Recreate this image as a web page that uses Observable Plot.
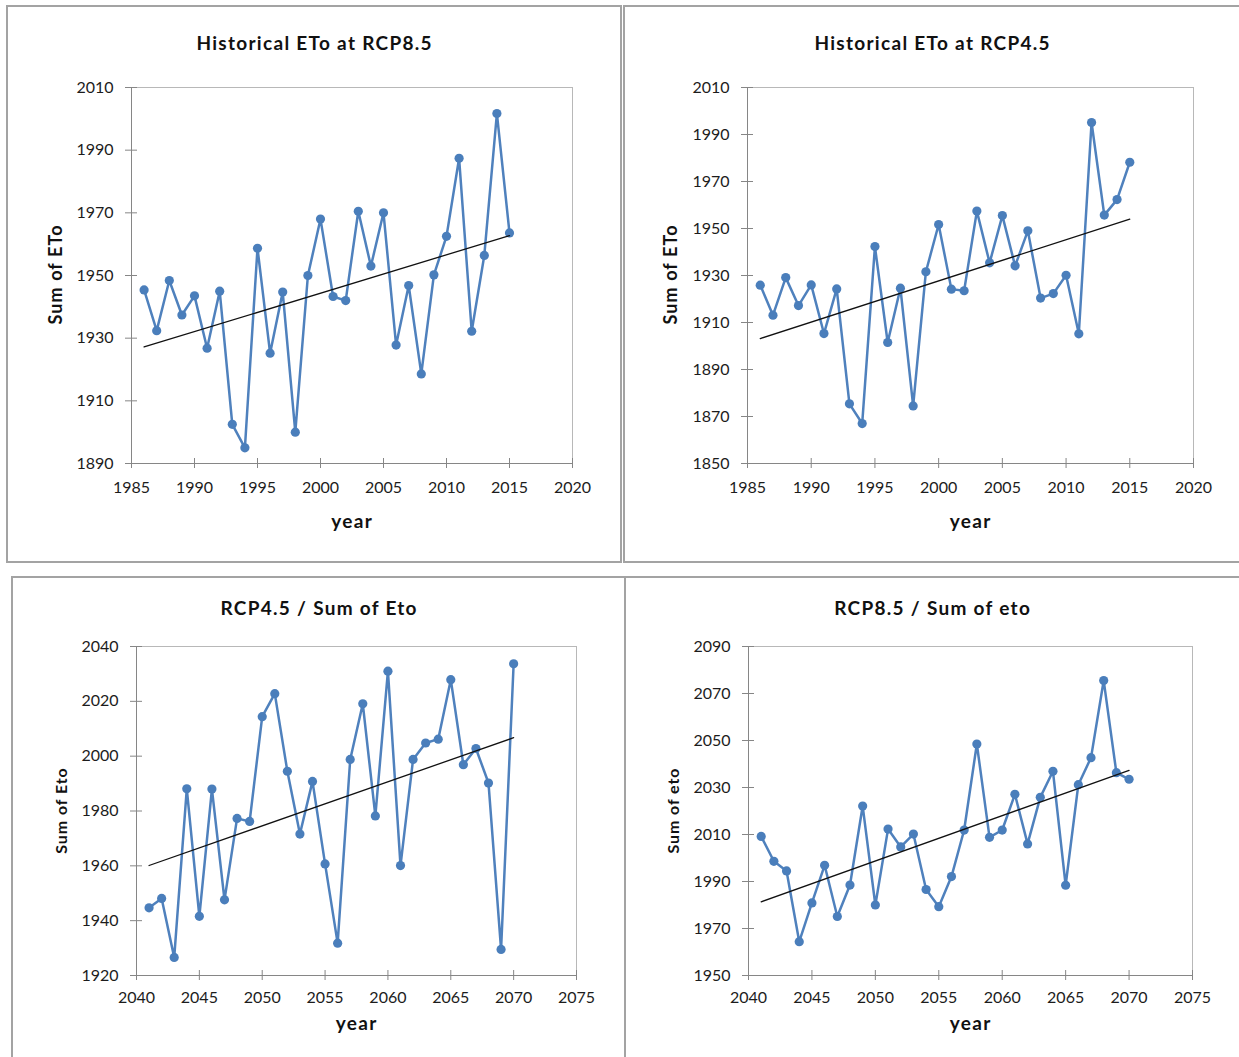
<!DOCTYPE html>
<html>
<head>
<meta charset="utf-8">
<script src="https://cdn.jsdelivr.net/npm/d3@7"></script>
<script src="https://cdn.jsdelivr.net/npm/@observablehq/plot@0.6"></script>
<style>
  body { margin: 0; background: #fff; }
  #page { position: relative; width: 1239px; height: 1057px; overflow: hidden; background: #fff; font-family: Lato, "Open Sans", sans-serif; }
  .box { position: absolute; box-sizing: border-box; border: 2px solid #a3a3a3; }
  .txt { position: absolute; white-space: nowrap; font-weight: 700; color: #111; transform: translate(-50%, -50%); }
  .ylab { transform: translate(-50%, -50%) rotate(-90deg); }
  .chart { position: absolute; }
  .chart svg { overflow: visible; }
</style>
</head>
<body>
<div id="page"></div>
<script>
// Annual sums of reference evapotranspiration (ETo)
const historicalYears = [1986, 1987, 1988, 1989, 1990, 1991, 1992, 1993, 1994, 1995,
  1996, 1997, 1998, 1999, 2000, 2001, 2002, 2003, 2004, 2005,
  2006, 2007, 2008, 2009, 2010, 2011, 2012, 2013, 2014, 2015];
const futureYears = [2041, 2042, 2043, 2044, 2045, 2046, 2047, 2048, 2049, 2050,
  2051, 2052, 2053, 2054, 2055, 2056, 2057, 2058, 2059, 2060,
  2061, 2062, 2063, 2064, 2065, 2066, 2067, 2068, 2069, 2070];

const historicalRcp85 = [1945.4, 1932.4, 1948.4, 1937.4, 1943.5, 1926.8, 1945.0, 1902.5, 1895.0, 1958.7,
  1925.2, 1944.7, 1900.0, 1950.0, 1968.0, 1943.3, 1942.0, 1970.5, 1953.0, 1970.0,
  1927.8, 1946.8, 1918.6, 1950.2, 1962.5, 1987.4, 1932.2, 1956.4, 2001.7, 1963.6];
const historicalRcp45 = [1925.9, 1913.1, 1929.1, 1917.2, 1926.0, 1905.3, 1924.3, 1875.4, 1867.0, 1942.3,
  1901.5, 1924.6, 1874.5, 1931.6, 1951.7, 1924.2, 1923.5, 1957.4, 1935.4, 1955.5,
  1934.1, 1949.0, 1920.4, 1922.3, 1930.1, 1905.2, 1995.1, 1955.7, 1962.3, 1978.2];
const futureRcp45 = [1944.7, 1948.1, 1926.6, 1988.1, 1941.6, 1988.0, 1947.6, 1977.3, 1976.2, 2014.4,
  2022.8, 1994.5, 1971.6, 1990.8, 1960.7, 1931.8, 1998.8, 2019.1, 1978.2, 2031.0,
  1960.1, 1998.8, 2004.8, 2006.2, 2027.9, 1996.9, 2002.8, 1990.2, 1929.5, 2033.7];
const futureRcp85 = [2009.2, 1998.6, 1994.5, 1964.4, 1980.9, 1996.9, 1975.1, 1988.5, 2022.1, 1980.0,
  2012.3, 2004.7, 2010.2, 1986.6, 1979.3, 1992.1, 2011.9, 2048.5, 2008.8, 2011.9,
  2027.1, 2006.0, 2025.8, 2036.9, 1988.4, 2031.2, 2042.7, 2075.5, 2036.3, 2033.5];

// Axis tick labels
const historicalXTicks = [1985, 1990, 1995, 2000, 2005, 2010, 2015, 2020];
const futureXTicks = [2040, 2045, 2050, 2055, 2060, 2065, 2070, 2075];
const yTicksRcp85Hist = [1890, 1910, 1930, 1950, 1970, 1990, 2010];
const yTicksRcp45Hist = [1850, 1870, 1890, 1910, 1930, 1950, 1970, 1990, 2010];
const yTicksRcp45Future = [1920, 1940, 1960, 1980, 2000, 2020, 2040];
const yTicksRcp85Future = [1950, 1970, 1990, 2010, 2030, 2050, 2070, 2090];

// Titles
const panelTitles = ["Historical ETo at RCP8.5", "Historical ETo at RCP4.5", "RCP4.5 / Sum of Eto", "RCP8.5 / Sum of eto"];
const yTitles = ["Sum of ETo", "Sum of ETo", "Sum of Eto", "Sum of eto"];
const xTitle = "year";

const page = document.getElementById("page");

// Panel layout: outer box, plot frame, title and label positions (page pixels)
const panels = [
  {title: panelTitles[0], yTitle: yTitles[0], years: historicalYears, values: historicalRcp85,
   xDomain: [1985, 2020], yDomain: [1890, 2010], xTicks: historicalXTicks, yTicks: yTicksRcp85Hist,
   box: {left: 6, top: 5, width: 616, height: 558},
   frame: {left: 131, top: 87, right: 572, bottom: 463},
   titleY: 42, xTitleY: 520, yTitleX: 55, yTitleSize: 18, yTitleSpacing: 1.1, tickPad: 18},
  {title: panelTitles[1], yTitle: yTitles[1], years: historicalYears, values: historicalRcp45,
   xDomain: [1985, 2020], yDomain: [1850, 2010], xTicks: historicalXTicks, yTicks: yTicksRcp45Hist,
   box: {left: 623, top: 5, width: 630, height: 558},
   frame: {left: 747, top: 87, right: 1193, bottom: 463},
   titleY: 42, titleX: 932, xTitleY: 520, yTitleX: 670, yTitleSize: 18, yTitleSpacing: 1.1, tickPad: 18},
  {title: panelTitles[2], yTitle: yTitles[2], years: futureYears, values: futureRcp45,
   xDomain: [2040, 2075], yDomain: [1920, 2040], xTicks: futureXTicks, yTicks: yTicksRcp45Future,
   box: {left: 11, top: 576, width: 615, height: 500},
   frame: {left: 136, top: 646, right: 576, bottom: 975},
   titleY: 607, xTitleY: 1022, yTitleX: 60, yTitleSize: 16, yTitleSpacing: 0.9, tickPad: 16},
  {title: panelTitles[3], yTitle: yTitles[3], years: futureYears, values: futureRcp85,
   xDomain: [2040, 2075], yDomain: [1950, 2090], xTicks: futureXTicks, yTicks: yTicksRcp85Future,
   box: {left: 624, top: 576, width: 630, height: 500},
   frame: {left: 748, top: 646, right: 1192, bottom: 975},
   titleY: 607, titleX: 932, xTitleY: 1022, yTitleX: 672, yTitleSize: 16, yTitleSpacing: 0.9, tickPad: 16}
];

function addText(text, x, y, size, spacing, cls) {
  const el = document.createElement("div");
  el.className = "txt" + (cls ? " " + cls : "");
  el.textContent = text;
  el.style.left = x + "px";
  el.style.top = y + "px";
  el.style.fontSize = size + "px";
  el.style.letterSpacing = spacing + "px";
  el.style.paddingLeft = spacing + "px"; // balance the trailing letter spacing
  page.appendChild(el);
}

for (const p of panels) {
  const box = document.createElement("div");
  box.className = "box";
  Object.assign(box.style, {left: p.box.left + "px", top: p.box.top + "px", width: p.box.width + "px", height: p.box.height + "px"});
  page.appendChild(box);

  const data = p.years.map((year, i) => ({year, value: p.values[i]}));
  const m = {left: 95, right: 30, top: 20, bottom: 45};
  const w = p.frame.right - p.frame.left + m.left + m.right;
  const h = p.frame.bottom - p.frame.top + m.top + m.bottom;
  const axisColor = "#868686";

  const chart = Plot.plot({
    width: w,
    height: h,
    marginLeft: m.left,
    marginRight: m.right,
    marginTop: m.top,
    marginBottom: m.bottom,
    x: {domain: p.xDomain},
    y: {domain: p.yDomain},
    style: {fontFamily: "Lato, 'Open Sans', sans-serif", fontSize: "16px", color: "#1c1c1c", background: "none"},
    marks: [
      Plot.frame({stroke: "#b8b8b8"}),
      Plot.ruleX([p.xDomain[0]], {stroke: axisColor}),
      Plot.ruleY([p.yDomain[0]], {stroke: axisColor}),
      // tick marks crossing the axis lines
      Plot.axisX(p.xTicks, {tickSize: 10, dy: -5, tickFormat: () => "", stroke: axisColor, label: null}),
      Plot.axisY(p.yTicks, {tickSize: 12, dx: 6, tickFormat: () => "", stroke: axisColor, label: null}),
      // tick labels
      Plot.axisX(p.xTicks, {tickSize: 0, tickPadding: p.tickPad, tickFormat: (d) => String(d), label: null}),
      Plot.axisY(p.yTicks, {tickSize: 0, tickPadding: 18, tickFormat: (d) => String(d), label: null}),
      Plot.line(data, {x: "year", y: "value", stroke: "#4f81bd", strokeWidth: 2.5}),
      Plot.dot(data, {x: "year", y: "value", r: 4.6, fill: "#4a7ebb"}),
      Plot.linearRegressionY(data, {x: "year", y: "value", stroke: "#111", strokeWidth: 1.3, ci: 0})
    ]
  });
  const holder = document.createElement("div");
  holder.className = "chart";
  holder.style.left = (p.frame.left - m.left) + "px";
  holder.style.top = (p.frame.top - m.top) + "px";
  holder.appendChild(chart);
  page.appendChild(holder);

  const cx = p.titleX ?? (p.box.left + p.box.width / 2);
  addText(p.title, cx, p.titleY, 19, 1.3);
  addText(xTitle, (p.frame.left + p.frame.right) / 2, p.xTitleY, 19, 1.3);
  addText(p.yTitle, p.yTitleX, (p.frame.top + p.frame.bottom) / 2, p.yTitleSize, p.yTitleSpacing, "ylab");
}
</script>
</body>
</html>
